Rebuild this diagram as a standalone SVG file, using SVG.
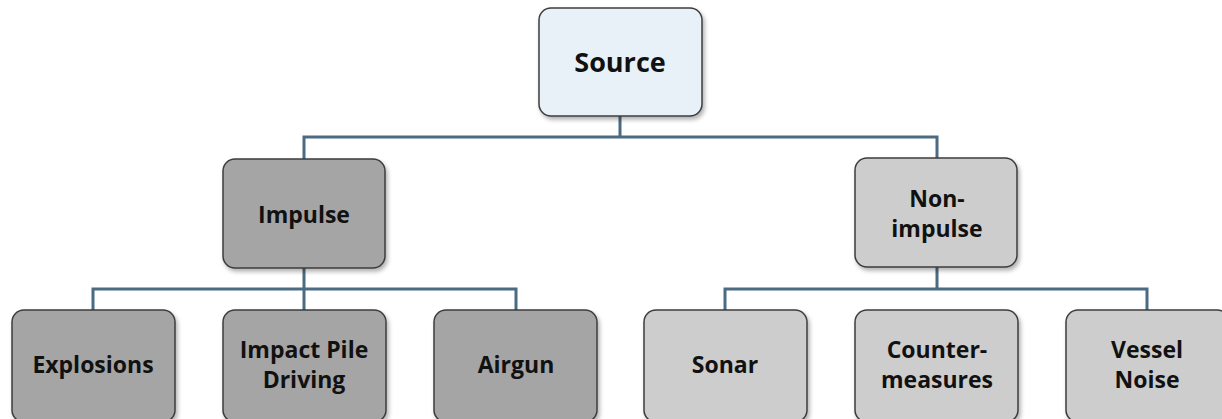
<svg xmlns="http://www.w3.org/2000/svg" width="1222" height="419" viewBox="0 0 1222 419">
<defs>
<style>
.box{stroke:#3c3c3c;stroke-width:1.5}
.src{fill:#e9f1f8}
.dark{fill:#a5a5a5}
.light{fill:#cdcdcd}
.lbl{font-family:"Open Sans","DejaVu Sans",sans-serif;font-weight:bold;fill:#111;text-anchor:middle;font-size:23px}
.conn{fill:none;stroke:#4b6b82;stroke-width:3}
</style>
<filter id="sh" x="-10%" y="-10%" width="125%" height="130%">
<feDropShadow dx="2" dy="3" stdDeviation="2" flood-color="#000" flood-opacity="0.3"/>
</filter>
</defs>
<rect width="1222" height="419" fill="#fff"/>
<g id="connectors">
<path class="conn" d="M620 116 V137 M304 159 V137 H937 V158"/>
<path class="conn" d="M304 268 V289 M93 310 V289 H516 V310 M304 289 V310"/>
<path class="conn" d="M937 267 V289 M725 310 V289 H1147 V310"/>
</g>
<g id="source"><rect class="box src" filter="url(#sh)" x="539" y="8" width="163" height="108" rx="12"/><text class="lbl" x="620" y="72" style="font-size:27px">Source</text></g>
<g id="impulse"><rect class="box dark" filter="url(#sh)" x="223" y="159" width="162" height="109" rx="12"/><text class="lbl" x="304" y="223">Impulse</text></g>
<g id="nonimpulse"><rect class="box light" filter="url(#sh)" x="855" y="158" width="162" height="109" rx="12"/><text class="lbl" x="937" y="207">Non-</text><text class="lbl" x="937" y="237">impulse</text></g>
<g id="explosions"><rect class="box dark" filter="url(#sh)" x="12" y="310" width="163" height="112" rx="12"/><text class="lbl" x="93" y="373">Explosions</text></g>
<g id="impact"><rect class="box dark" filter="url(#sh)" x="223" y="310" width="163" height="112" rx="12"/><text class="lbl" x="304" y="358">Impact Pile</text><text class="lbl" x="304" y="388">Driving</text></g>
<g id="airgun"><rect class="box dark" filter="url(#sh)" x="434" y="310" width="163" height="112" rx="12"/><text class="lbl" x="516" y="373">Airgun</text></g>
<g id="sonar"><rect class="box light" filter="url(#sh)" x="644" y="310" width="163" height="112" rx="12"/><text class="lbl" x="725" y="373">Sonar</text></g>
<g id="counter"><rect class="box light" filter="url(#sh)" x="855" y="310" width="163" height="112" rx="12"/><text class="lbl" x="937" y="358">Counter-</text><text class="lbl" x="937" y="388">measures</text></g>
<g id="vessel"><rect class="box light" filter="url(#sh)" x="1066" y="310" width="163" height="112" rx="12"/><text class="lbl" x="1147" y="358">Vessel</text><text class="lbl" x="1147" y="388">Noise</text></g>
</svg>
